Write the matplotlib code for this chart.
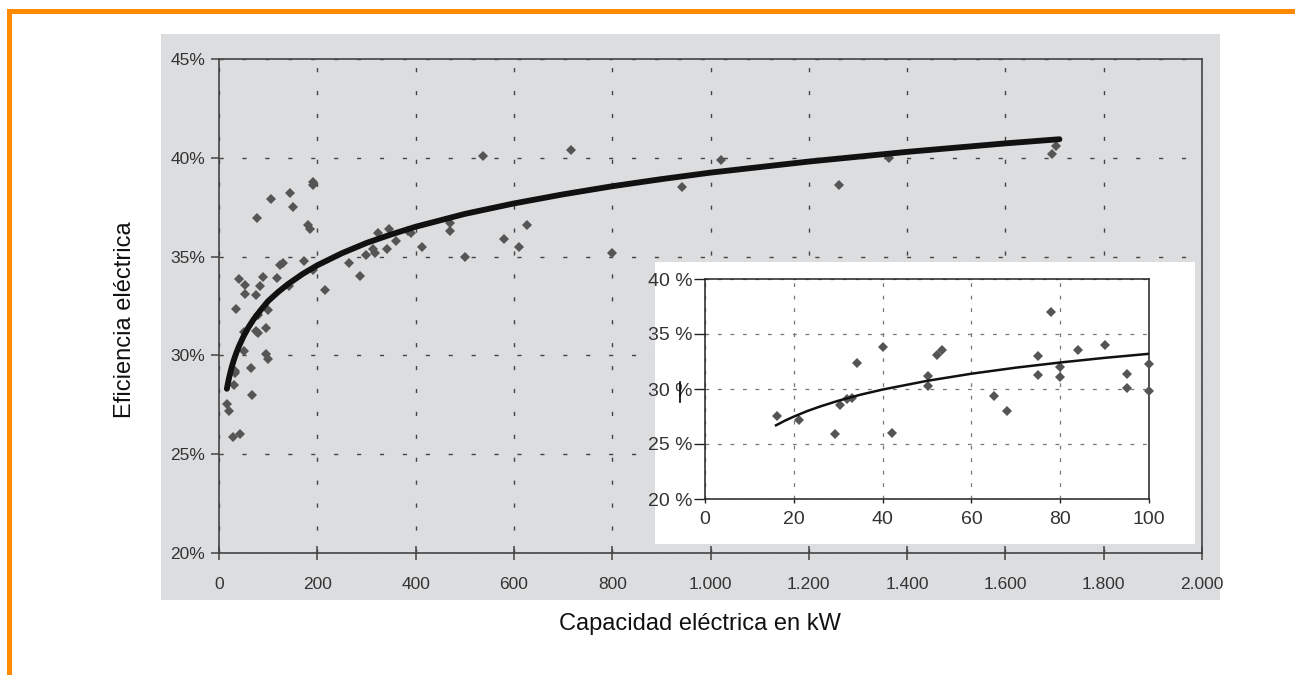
import matplotlib
matplotlib.use("Agg")
import matplotlib.pyplot as plt
from matplotlib.patches import Rectangle
from matplotlib.lines import Line2D
from matplotlib import font_manager

# ---------------- data ----------------
cap_kw = [16.2, 21.2, 29.3, 30.4, 32, 33.1, 34.2, 40.2, 42.2, 50.3, 50.3, 52.3, 53.3,
          65.1, 68, 75, 75, 78, 80, 80, 84.1, 90, 95, 95, 99.9, 99.9,
          105, 119, 124, 130, 143, 145, 151, 173, 181, 185, 191, 191, 192, 216,
          265, 287, 299, 314, 317, 324, 342, 345, 360, 385, 390, 414, 469, 469,
          501, 538, 580, 611, 626, 717, 800, 943, 1021, 1262, 1364, 1695, 1703]
eff_pct = [27.56, 27.2, 25.87, 28.5, 29.1, 29.2, 32.34, 33.86, 26.0, 31.2, 30.23, 33.1, 33.55,
           29.38, 28.0, 33.04, 31.23, 36.97, 32.04, 31.13, 33.5, 33.98, 31.38, 30.05, 32.28, 29.83,
           37.9, 33.9, 34.6, 34.7, 33.5, 38.2, 37.5, 34.8, 36.6, 36.4, 38.8, 38.6, 34.3, 33.3,
           34.7, 34.0, 35.1, 35.4, 35.2, 36.2, 35.4, 36.4, 35.8, 36.3, 36.2, 35.5, 36.7, 36.3,
           35.0, 40.1, 35.9, 35.5, 36.6, 40.4, 35.2, 38.5, 39.9, 38.6, 40.0, 40.2, 40.6]

# trend curve
trend_x = [16, 18, 20, 23, 26, 30, 35, 40, 50, 60, 70, 85, 100, 120, 140, 170, 200, 250,
           300, 350, 400, 500, 600, 700, 800, 900, 1000, 1200, 1400, 1600, 1710]
trend_y = [28.31, 28.57, 28.81, 29.13, 29.42, 29.75, 30.11, 30.43, 30.97, 31.42, 31.81, 32.30,
           32.75, 33.2, 33.6, 34.12, 34.56, 35.17, 35.69, 36.12, 36.51, 37.16, 37.69, 38.15,
           38.56, 38.92, 39.25, 39.81, 40.30, 40.73, 40.94]

inset_trend_x = [16, 18, 20, 23, 26, 30, 35, 40, 50, 60, 70, 80, 90, 100]
inset_trend_y = [26.70, 27.12, 27.49, 27.99, 28.42, 28.93, 29.48, 29.95, 30.74, 31.39, 31.94,
                 32.41, 32.83, 33.20]

main_xticks = [0, 200, 400, 600, 800, 1000, 1200, 1400, 1600, 1800, 2000]
main_xlabels = ["0", "200", "400", "600", "800", "1.000", "1.200", "1.400", "1.600", "1.800", "2.000"]
main_yticks = [20, 25, 30, 35, 40, 45]
main_ylabels = ["20%", "25%", "30%", "35%", "40%", "45%"]

inset_xticks = [0, 20, 40, 60, 80, 100]
inset_xlabels = ["0", "20", "40", "60", "80", "100"]
inset_yticks = [20, 25, 30, 35, 40]
inset_ylabels = ["20 %", "25 %", "30 %", "35 %", "40 %"]

# ---------------- fonts ----------------
names = {f.name for f in font_manager.fontManager.ttflist}
base_font = "Liberation Sans" if "Liberation Sans" in names else "DejaVu Sans"
narrow_font = "Liberation Sans Narrow" if "Liberation Sans Narrow" in names else base_font
plt.rcParams['font.family'] = [base_font, 'DejaVu Sans']

W, H = 1295, 675
fig = plt.figure(figsize=(W / 100, H / 100), dpi=100)
fig.patch.set_facecolor("white")

def fx(px):
    return px / W

def fy(py):
    return 1 - py / H

orange = "#ff8a00"
# orange frame (top and left)
fig.patches.append(Rectangle((fx(7), fy(14)), fx(1295 - 7), 5 / H, transform=fig.transFigure,
                             facecolor=orange, edgecolor="none", zorder=-2))
fig.patches.append(Rectangle((fx(7), 0), 5 / W, fy(9), transform=fig.transFigure,
                             facecolor=orange, edgecolor="none", zorder=-2))
# gray panel
gray = "#dcdddf"
fig.patches.append(Rectangle((fx(161), fy(600)), (1220 - 161) / W, (600 - 34) / H,
                             transform=fig.transFigure, facecolor=gray, edgecolor="none", zorder=-2))

# ---------------- main axes ----------------
ax = fig.add_axes([fx(219), fy(553), (1202 - 219) / W, (553 - 59) / H], zorder=0)
ax.set_facecolor(gray)
ax.set_xlim(0, 2000)
ax.set_ylim(20, 45)
ax.set_xticks(main_xticks)
ax.set_xticklabels(main_xlabels)
ax.set_yticks(main_yticks)
ax.set_yticklabels(main_ylabels)
ax.tick_params(axis='x', direction='inout', length=10, width=1.1, color="#444444",
               labelsize=12.5, labelcolor="#333333", pad=12)
ax.tick_params(axis='y', direction='out', length=6, width=1.1, color="#444444",
               labelsize=12.5, labelcolor="#333333", pad=4)
for s in ax.spines.values():
    s.set_color("#444444")
    s.set_linewidth(1.2)
ax.grid(True, color="#444444", linestyle=(0, (3, 13.5)), linewidth=1.0)
ax.set_axisbelow(True)

ax.plot(cap_kw, eff_pct, linestyle="none", marker="D", markersize=5.4,
        color="#555555", markeredgewidth=0, zorder=3)
ax.plot(trend_x, trend_y, color="#111111", linewidth=4.2, solid_capstyle="round",
        solid_joinstyle="round", zorder=4)

fig.text(fx(125), fy(320), "Eficiencia eléctrica", rotation=90, ha="center", va="center",
         fontsize=17, color="#111111")
fig.text(fx(700), fy(624), "Capacidad eléctrica en kW", ha="center", va="center",
         fontsize=17, color="#111111")

# ---------------- inset ----------------
fig.patches.append(Rectangle((fx(655), fy(544)), (1195 - 655) / W, (544 - 262) / H,
                             transform=fig.transFigure, facecolor="white", edgecolor="none",
                             zorder=5))
axi = fig.add_axes([fx(705), fy(499), (1149 - 705) / W, (499 - 279) / H], zorder=6)
axi.set_facecolor("white")
axi.set_xlim(0, 100)
axi.set_ylim(20, 40)
axi.set_xticks(inset_xticks)
axi.set_xticklabels(inset_xlabels)
axi.set_yticks(inset_yticks)
axi.set_yticklabels(inset_ylabels)
for lab in axi.get_xticklabels() + axi.get_yticklabels():
    lab.set_family([narrow_font, 'DejaVu Sans'])
axi.tick_params(axis='x', direction='out', length=3, width=1.0, color="#222222",
                labelsize=14, labelcolor="#333333", pad=6)
axi.tick_params(axis='y', direction='out', length=8, width=1.0, color="#222222",
                labelsize=14, labelcolor="#333333", pad=1)
for s in axi.spines.values():
    s.set_color("#222222")
    s.set_linewidth(1.1)
axi.grid(True, color="#777777", linestyle=(0, (3, 7)), linewidth=0.9)
axi.set_axisbelow(True)
mask = [x <= 100 for x in cap_kw]
axi.plot([x for x, m in zip(cap_kw, mask) if m], [y for y, m in zip(eff_pct, mask) if m],
         linestyle="none", marker="D", markersize=5.0, color="#555555",
         markeredgewidth=0, zorder=3, clip_on=False)
axi.plot(inset_trend_x, inset_trend_y, color="#111111", linewidth=1.8,
         solid_joinstyle="round", zorder=4)

# small cursor bar in "30|%"
fig.add_artist(Line2D([fx(680), fx(680)], [fy(382), fy(402)], transform=fig.transFigure,
                      color="black", linewidth=1.2, zorder=10))

fig.savefig("out.png", dpi=100)
